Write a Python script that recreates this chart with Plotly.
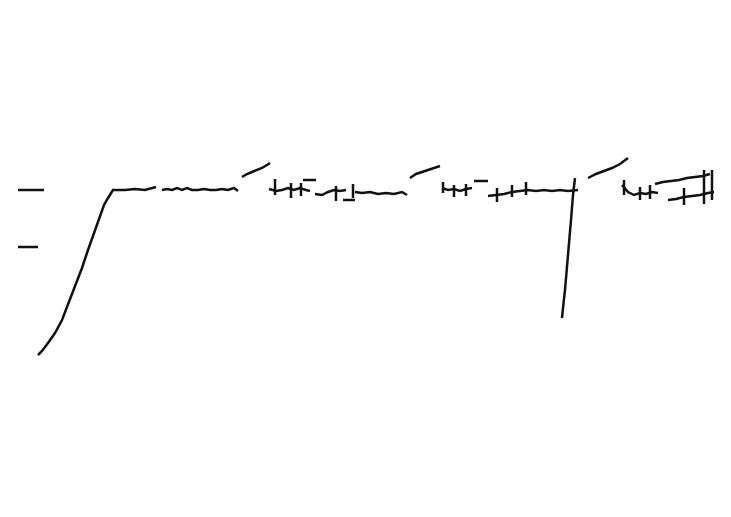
import plotly.graph_objects as go

# Traced marks (x, y in image-like units; y grows downward)
tick_hi_x = [18, 44]
tick_hi_y = [190, 190]
tick_lo_x = [18, 38]
tick_lo_y = [247, 247]

rise_x = [38, 42, 48, 55, 62, 68, 75, 82, 88, 95, 100, 104, 108, 113, 125, 135, 145, 152, 156]
rise_y = [355, 351, 343, 333, 320, 305, 287, 268, 250, 230, 215, 205, 198, 190, 190, 189, 190, 188, 187]

wig1_x = [162, 167, 172, 177, 182, 187, 192, 198, 204, 210, 216, 222, 228, 234, 238]
wig1_y = [190, 189, 190, 188, 190, 188, 190, 190, 189, 190, 190, 189, 190, 188, 191]

dash1_x = [242, 247, 252, 257, 262, 267, 270]
dash1_y = [177, 174, 172, 170, 168, 165, 163]

wig2_x = [269, 276, 282, 288, 294, 300, 306, 310]
wig2_y = [189, 191, 190, 188, 190, 188, 190, 191]
vt2a_x = [275, 275]
vt2a_y = [179, 195]
vt2b_x = [291, 291]
vt2b_y = [183, 198]
vt2c_x = [301, 301]
vt2c_y = [183, 196]
bar2_x = [303, 316]
bar2_y = [180, 180]

wig3_x = [315, 322, 328, 334, 340, 346]
wig3_y = [194, 195, 192, 190, 191, 190]
vt3a_x = [336, 336]
vt3a_y = [186, 201]
bar3_x = [343, 355]
bar3_y = [200, 200]
vt3b_x = [353, 353]
vt3b_y = [184, 198]

wig4_x = [355, 362, 370, 378, 386, 394, 402, 407]
wig4_y = [192, 193, 192, 194, 193, 194, 192, 195]

dash2_x = [410, 416, 422, 428, 434, 440]
dash2_y = [178, 174, 172, 170, 168, 166]

wig5_x = [442, 448, 454, 460, 466, 472]
wig5_y = [188, 190, 189, 191, 189, 188]
vt5a_x = [443, 443]
vt5a_y = [182, 193]
vt5b_x = [454, 454]
vt5b_y = [185, 197]
vt5c_x = [466, 466]
vt5c_y = [184, 196]
bar5_x = [474, 488]
bar5_y = [181, 181]

wig6_x = [488, 496, 504, 512, 520, 528, 536, 544, 552, 560, 568, 578]
wig6_y = [196, 195, 194, 192, 191, 190, 191, 190, 191, 190, 191, 190]
vt6a_x = [497, 497]
vt6a_y = [188, 202]
vt6b_x = [512, 512]
vt6b_y = [185, 197]
vt6c_x = [526, 526]
vt6c_y = [182, 195]

drop_x = [575, 573, 571, 569, 567, 565, 563, 562]
drop_y = [178, 195, 220, 245, 270, 290, 308, 318]

dash3_x = [588, 596, 604, 612, 620, 628]
dash3_y = [178, 174, 171, 168, 164, 158]

wig7_x = [622, 628, 634, 640, 646, 652, 658]
wig7_y = [185, 192, 195, 193, 194, 192, 193]
vt7a_x = [624, 624]
vt7a_y = [180, 195]
vt7b_x = [640, 640]
vt7b_y = [187, 200]
vt7c_x = [650, 650]
vt7c_y = [185, 199]

wig8_x = [655, 663, 671, 679, 687, 695, 703, 710]
wig8_y = [184, 182, 181, 180, 178, 177, 176, 174]
wig9_x = [668, 676, 684, 692, 700, 708, 714]
wig9_y = [200, 199, 197, 196, 195, 193, 192]
vt9a_x = [684, 684]
vt9a_y = [188, 205]
vt9b_x = [704, 704]
vt9b_y = [170, 204]
vt9c_x = [712, 712]
vt9c_y = [170, 200]

segments = [
    (tick_hi_x, tick_hi_y), (tick_lo_x, tick_lo_y), (rise_x, rise_y),
    (wig1_x, wig1_y), (dash1_x, dash1_y),
    (wig2_x, wig2_y), (vt2a_x, vt2a_y), (vt2b_x, vt2b_y), (vt2c_x, vt2c_y), (bar2_x, bar2_y),
    (wig3_x, wig3_y), (vt3a_x, vt3a_y), (bar3_x, bar3_y), (vt3b_x, vt3b_y),
    (wig4_x, wig4_y), (dash2_x, dash2_y),
    (wig5_x, wig5_y), (vt5a_x, vt5a_y), (vt5b_x, vt5b_y), (vt5c_x, vt5c_y), (bar5_x, bar5_y),
    (wig6_x, wig6_y), (vt6a_x, vt6a_y), (vt6b_x, vt6b_y), (vt6c_x, vt6c_y),
    (drop_x, drop_y), (dash3_x, dash3_y),
    (wig7_x, wig7_y), (vt7a_x, vt7a_y), (vt7b_x, vt7b_y), (vt7c_x, vt7c_y),
    (wig8_x, wig8_y), (wig9_x, wig9_y), (vt9a_x, vt9a_y), (vt9b_x, vt9b_y), (vt9c_x, vt9c_y),
]

fig = go.Figure()
for sx, sy in segments:
    fig.add_trace(go.Scatter(x=sx, y=sy, mode="lines",
                             line=dict(color="#111111", width=2.5),
                             hoverinfo="skip", showlegend=False))

# The page body has an 8px margin; size and ranges compensate for it
fig.update_layout(
    width=715, height=501,
    margin=dict(l=0, r=0, t=0, b=0),
    paper_bgcolor="white", plot_bgcolor="white",
    xaxis=dict(range=[8, 723], visible=False, fixedrange=True),
    yaxis=dict(range=[509, 8], visible=False, fixedrange=True),
)
fig.write_html("out.html")
